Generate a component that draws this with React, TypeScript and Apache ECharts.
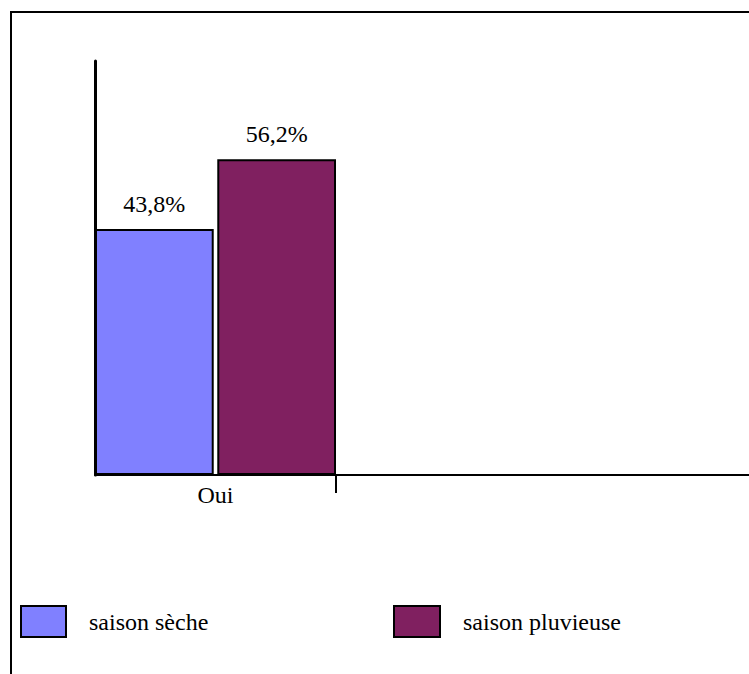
import React, { useEffect, useRef } from "react";
import * as echarts from "echarts";

const categories = ["Oui"];
const seriesNames = ["saison sèche", "saison pluvieuse"];
const seasonDry = [43.8];
const seasonRainy = [56.2];
const colors = ["#8080FF", "#802060"];

const FONT = "Liberation Serif";

export default function App() {
  const ref = useRef<HTMLDivElement>(null);

  useEffect(() => {
    if (!ref.current) return;
    const chart = echarts.init(ref.current, null, { renderer: "svg" });

    const barSeries = (name: string, data: number[], color: string) => ({
      name,
      type: "bar",
      xAxisIndex: 0,
      yAxisIndex: 0,
      data,
      barCategoryGap: "0%",
      barGap: "3%",
      itemStyle: { color, borderColor: "#000", borderWidth: 2 },
      label: {
        show: true,
        position: "top",
        distance: 13,
        color: "#000",
        fontFamily: FONT,
        fontSize: 24,
        formatter: (p: any) => p.value.toFixed(1).replace(".", ",") + "%",
      },
    });

    const legendText = {
      color: "#000",
      fontFamily: FONT,
      fontSize: 24,
      padding: [0, 0, 6, 18],
    };

    chart.setOption({
      animation: false,
      backgroundColor: "#fff",
      textStyle: { fontFamily: FONT },
      grid: [
        { left: 95, top: 61, width: 241, height: 414 },
        // continuation of the baseline to the right of the "Oui" band
        { left: 336, top: 61, width: 520, height: 414, outerBoundsMode: "none" },
      ],
      xAxis: [
        {
          type: "category",
          gridIndex: 0,
          data: categories,
          axisLine: { lineStyle: { color: "#000", width: 2 } },
          axisTick: { show: false },
          axisLabel: { color: "#000", fontFamily: FONT, fontSize: 24, margin: 8 },
        },
        {
          type: "category",
          gridIndex: 1,
          data: [""],
          axisLine: { lineStyle: { color: "#000", width: 2 } },
          axisTick: { show: true, length: 18, lineStyle: { color: "#000", width: 2 } },
          axisLabel: { show: false },
        },
      ],
      yAxis: [
        {
          type: "value",
          gridIndex: 0,
          min: 0,
          max: 73.7,
          axisLine: { show: true, lineStyle: { color: "#000", width: 3 } },
          axisTick: { show: false },
          axisLabel: { show: false },
          splitLine: { show: false },
        },
        { type: "value", gridIndex: 1, show: false },
      ],
      legend: [
        {
          data: [seriesNames[0]],
          left: 20,
          top: 605,
          padding: 0,
          icon: "rect",
          itemWidth: 45,
          itemHeight: 31,
          textStyle: legendText,
        },
        {
          data: [seriesNames[1]],
          left: 393,
          top: 605,
          padding: 0,
          icon: "rect",
          itemWidth: 46,
          itemHeight: 31,
          textStyle: legendText,
        },
      ],
      graphic: [
        {
          type: "rect",
          shape: { x: 11, y: 12, width: 900, height: 800 },
          style: { fill: "none", stroke: "#000", lineWidth: 2 },
          silent: true,
        },
      ],
      series: [
        barSeries(seriesNames[0], seasonDry, colors[0]),
        barSeries(seriesNames[1], seasonRainy, colors[1]),
      ],
    });

    return () => chart.dispose();
  }, []);

  return (
    <div
      ref={ref}
      style={{ position: "absolute", left: 0, top: 0, width: 749, height: 674 }}
    />
  );
}
